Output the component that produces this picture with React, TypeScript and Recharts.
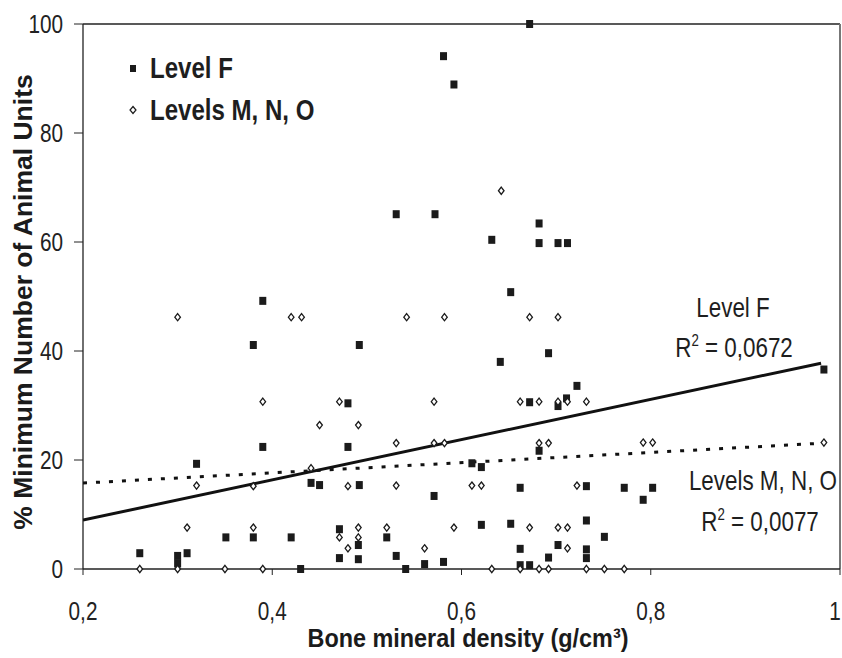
import { ScatterChart, Scatter, XAxis, YAxis, ReferenceLine } from "recharts";

// bone mineral density (g/cm3) vs % MAU, one [density, %MAU] pair per element
const levelF: [number, number][] = [
  [0.672, 100], [0.581, 94.1], [0.592, 88.9], [0.531, 65.1], [0.572, 65.1],
  [0.682, 63.4], [0.632, 60.4], [0.682, 59.8], [0.702, 59.8], [0.712, 59.8],
  [0.652, 50.8], [0.39, 49.2], [0.38, 41.1], [0.492, 41.1], [0.692, 39.6],
  [0.641, 38.0], [0.722, 33.6], [0.983, 36.6], [0.711, 31.3], [0.48, 30.4],
  [0.672, 30.6], [0.702, 29.9], [0.39, 22.4], [0.48, 22.4], [0.682, 21.7],
  [0.32, 19.3], [0.611, 19.4], [0.621, 18.7], [0.441, 15.8], [0.45, 15.4],
  [0.492, 15.4], [0.662, 14.9], [0.571, 13.4], [0.732, 15.2], [0.772, 14.9],
  [0.802, 14.9], [0.792, 12.7], [0.732, 8.9], [0.471, 7.3], [0.621, 8.1],
  [0.652, 8.3], [0.351, 5.8], [0.38, 5.8], [0.42, 5.8], [0.521, 5.8],
  [0.751, 5.9], [0.491, 4.4], [0.702, 4.4], [0.662, 3.7], [0.732, 3.6],
  [0.732, 2.0], [0.26, 2.9], [0.31, 2.9], [0.3, 2.4], [0.3, 1.0],
  [0.471, 2.0], [0.491, 1.8], [0.531, 2.4], [0.692, 2.1], [0.561, 0.9],
  [0.581, 1.3], [0.662, 0.7], [0.672, 0.7], [0.43, 0], [0.541, 0],
];

const levelsMNO: [number, number][] = [
  [0.642, 69.4], [0.3, 46.2], [0.42, 46.2], [0.431, 46.2], [0.542, 46.2],
  [0.582, 46.2], [0.672, 46.2], [0.702, 46.2], [0.39, 30.7], [0.471, 30.7],
  [0.571, 30.7], [0.662, 30.7], [0.682, 30.7], [0.702, 30.7], [0.712, 30.7],
  [0.732, 30.7], [0.45, 26.4], [0.491, 26.4], [0.531, 23.1], [0.571, 23.1],
  [0.582, 23.1], [0.682, 23.1], [0.692, 23.1], [0.792, 23.2], [0.802, 23.2],
  [0.983, 23.2], [0.441, 18.5], [0.32, 15.3], [0.38, 15.2], [0.48, 15.2],
  [0.531, 15.3], [0.611, 15.3], [0.621, 15.3], [0.722, 15.3], [0.31, 7.6],
  [0.38, 7.6], [0.491, 7.6], [0.521, 7.6], [0.592, 7.6], [0.672, 7.6],
  [0.702, 7.6], [0.712, 7.6], [0.471, 5.8], [0.491, 5.8], [0.48, 3.8],
  [0.561, 3.8], [0.712, 3.8], [0.26, 0], [0.3, 0], [0.35, 0], [0.39, 0],
  [0.632, 0], [0.662, 0], [0.682, 0], [0.692, 0], [0.732, 0], [0.751, 0],
  [0.772, 0],
];

// linear trends
const trendF = { intercept: 1.6, slope: 36.9, r2: "0,0672" };
const trendMNO = { intercept: 13.9, slope: 9.36, r2: "0,0077" };
const trendRange = [0.2, 0.98];

const xTicks = [0.2, 0.4, 0.6, 0.8, 1];
const yTicks = [0, 20, 40, 60, 80, 100];

const SANS = "'Liberation Sans', Arial, sans-serif";
const SQUEEZE = 0.83; // condensed look for the Helvetica-narrow style text

const toPoints = (rows: [number, number][]) => rows.map(([x, y]) => ({ x, y }));
const trendLine = (t: { intercept: number; slope: number }) =>
  trendRange.map((x) => ({ x, y: t.intercept + t.slope * x }));

const Square = (props: any) => (
  <rect x={props.cx - 3.5} y={props.cy - 4} width={7} height={8} fill="#1b1b1b" />
);

const Diamond = (props: any) => {
  const { cx, cy } = props;
  return (
    <path
      d={`M${cx},${cy - 3.6} L${cx + 2.8},${cy} L${cx},${cy + 3.6} L${cx - 2.8},${cy} Z`}
      fill="#fff"
      stroke="#1b1b1b"
      strokeWidth={1.3}
    />
  );
};

const NoDot = () => <g />;

// text squeezed horizontally around its anchor point
const Narrow = ({ x, y, anchor = "start", size = 27, bold = false, children }: any) => (
  <g transform={`translate(${x} ${y}) scale(${SQUEEZE} 1)`}>
    <text x={0} y={0} textAnchor={anchor} fontFamily={SANS} fontSize={size} fontWeight={bold ? "bold" : "normal"} fill="#1e1e1e">
      {children}
    </text>
  </g>
);

const XTick = (props: any) => {
  const v = props.payload.value;
  // keep the last label inside the right edge
  const shift = v === 1 ? -3 : 0;
  return (
    <g transform={`translate(${props.x + shift} ${props.y}) scale(${SQUEEZE} 1)`}>
      <text x={0} y={0} dy="0.72em" textAnchor="middle" fontFamily={SANS} fontSize={25} fill="#222">
        {String(v).replace(".", ",")}
      </text>
    </g>
  );
};

const YTick = (props: any) => (
  <g transform={`translate(${props.x} ${props.y}) scale(${SQUEEZE} 1)`}>
    <text x={0} y={0} dy="0.36em" textAnchor="end" fontFamily={SANS} fontSize={25} fill="#222">
      {props.payload.value}
    </text>
  </g>
);

export default function App() {
  return (
    <div style={{ position: "absolute", left: 0, top: 0, width: 842, height: 658, background: "#fff" }}>
      <ScatterChart width={842} height={658} margin={{ top: 24, right: 2, bottom: 0, left: 0 }}>
        <XAxis
          type="number"
          dataKey="x"
          domain={[0.2, 1]}
          ticks={xTicks}
          allowDataOverflow
          height={89}
          tick={<XTick />}
          tickSize={6}
          tickMargin={27}
          axisLine={{ stroke: "#222", strokeWidth: 1.3 }}
          tickLine={{ stroke: "#222" }}
        />
        <YAxis
          type="number"
          dataKey="y"
          domain={[0, 100]}
          ticks={yTicks}
          width={83}
          tick={<YTick />}
          tickSize={9}
          tickMargin={11}
          axisLine={{ stroke: "#222", strokeWidth: 1.3 }}
          tickLine={{ stroke: "#222" }}
        />
        <ReferenceLine y={100} stroke="#222" strokeWidth={1.5} />
        <ReferenceLine x={1} stroke="#777" strokeWidth={2} />
        <Scatter
          name="Levels M, N, O trend"
          data={trendLine(trendMNO)}
          line={{ stroke: "#111", strokeWidth: 3, strokeDasharray: "4 9" }}
          shape={NoDot}
          isAnimationActive={false}
        />
        <Scatter
          name="Level F trend"
          data={trendLine(trendF)}
          line={{ stroke: "#111", strokeWidth: 3 }}
          shape={NoDot}
          isAnimationActive={false}
        />
        <Scatter name="Level F" data={toPoints(levelF)} shape={Square} isAnimationActive={false} />
        <Scatter name="Levels M, N, O" data={toPoints(levelsMNO)} shape={Diamond} isAnimationActive={false} />
      </ScatterChart>

      {/* legend, axis titles and trend labels */}
      <svg
        width={842}
        height={658}
        style={{ position: "absolute", left: 0, top: 0, pointerEvents: "none" }}
      >
        <rect x={130} y={65} width={6} height={7} fill="#1b1b1b" />
        <Narrow x={150} y={78} size={29} bold>Level F</Narrow>
        <path d="M133,106.5 L136,110 L133,113.5 L130,110 Z" fill="#fff" stroke="#1b1b1b" strokeWidth={1.2} />
        <Narrow x={150} y={120} size={29} bold>Levels M, N, O</Narrow>

        <Narrow x={733} y={317} anchor="middle">Level F</Narrow>
        <Narrow x={734} y={357} anchor="middle">
          R<tspan dy={-11} fontSize={16}>2</tspan>
          <tspan dy={11}> = {trendF.r2}</tspan>
        </Narrow>
        <Narrow x={837} y={490} anchor="end">Levels M, N, O</Narrow>
        <Narrow x={760} y={531} anchor="middle">
          R<tspan dy={-11} fontSize={16}>2</tspan>
          <tspan dy={11}> = {trendMNO.r2}</tspan>
        </Narrow>

        <g transform="translate(468 647) scale(0.9 1)">
          <text x={0} y={0} textAnchor="middle" fontFamily={SANS} fontWeight="bold" fontSize={26} fill="#1b1b1b">
            Bone mineral density (g/cm³)
          </text>
        </g>
        <text
          x={0}
          y={0}
          transform="translate(32 302) rotate(-90)"
          textAnchor="middle"
          fontFamily={SANS}
          fontWeight="bold"
          fontSize={26.5}
          fill="#1b1b1b"
        >
          % Minimum Number of Animal Units
        </text>
      </svg>
    </div>
  );
}
